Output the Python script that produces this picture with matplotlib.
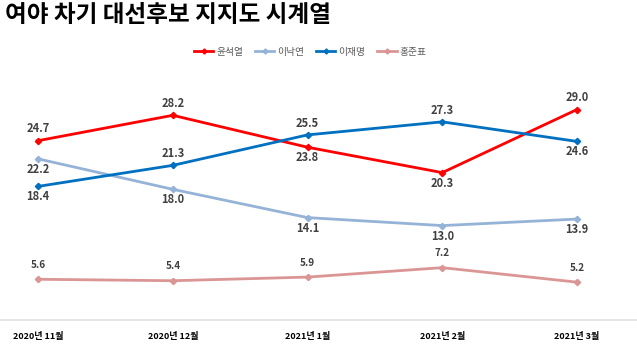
import matplotlib.pyplot as plt

plt.rcParams['font.family'] = ['Noto Sans CJK KR', 'DejaVu Sans']

months = ['2020년 11월', '2020년 12월', '2021년 1월', '2021년 2월', '2021년 3월']
yoon = [24.7, 28.2, 23.8, 20.3, 29.0]
lee_ny = [22.2, 18.0, 14.1, 13.0, 13.9]
lee_jm = [18.4, 21.3, 25.5, 27.3, 24.6]
hong = [5.6, 5.4, 5.9, 7.2, 5.2]

names = ['윤석열', '이낙연', '이재명', '홍준표']
colors = ['#FF0000', '#95B3D7', '#0070C0', '#DA9694']
# label above (+) or below (-) each point
yoon_pos = [1, 1, -1, -1, 1]
lee_ny_pos = [-1, -1, -1, -1, -1]
lee_jm_pos = [-1, 1, 1, 1, -1]
hong_pos = [1, 1, 1, 1, 1]

fig = plt.figure(figsize=(6.37, 3.5), dpi=100)
ax = fig.add_axes([0, 0.086, 1, 0.74])

x = list(range(len(months)))
series = [yoon, lee_ny, lee_jm, hong]
positions = [yoon_pos, lee_ny_pos, lee_jm_pos, hong_pos]

for vals, pos, name, color in zip(series, positions, names, colors):
    ax.plot(x, vals, color=color, linewidth=2, marker='D', markersize=3.2,
            label=name, zorder=3)
    for xi, v, p in zip(x, vals, pos):
        off = 8.5 if p > 0 else -7.5
        fs = 8
        if name == '홍준표':
            off = 10.5
            fs = 7.2
        ax.annotate(f'{v:.1f}', (xi, v), xytext=(0, off), textcoords='offset points',
                    ha='center', va='center', fontsize=fs, color='#404040',
                    fontweight='bold')

ax.set_xlim(-0.282, 4.445)
ax.set_ylim(0, 35.7)
ax.set_xticks(x)
ax.set_xticklabels(months, fontsize=6.5, fontweight='bold', color='black')
ax.tick_params(axis='x', length=0, pad=9)
ax.set_yticks([])
for s in ['top', 'right', 'left']:
    ax.spines[s].set_visible(False)
ax.spines['bottom'].set_color('#E0E0E0')
ax.spines['bottom'].set_linewidth(1.2)

fig.text(0.008, 0.958, '여야 차기 대선후보 지지도 시계열', fontsize=17,
         fontweight='bold', ha='left', va='center', color='black')

leg = ax.legend(loc='center', bbox_to_anchor=(0.487, 1.035), ncol=4, frameon=False,
                fontsize=7, handlelength=2, columnspacing=1.2, handletextpad=0.3,
                markerscale=0.8)
for t in leg.get_texts():
    t.set_color('#595959')

fig.savefig('out.png', dpi=100)
